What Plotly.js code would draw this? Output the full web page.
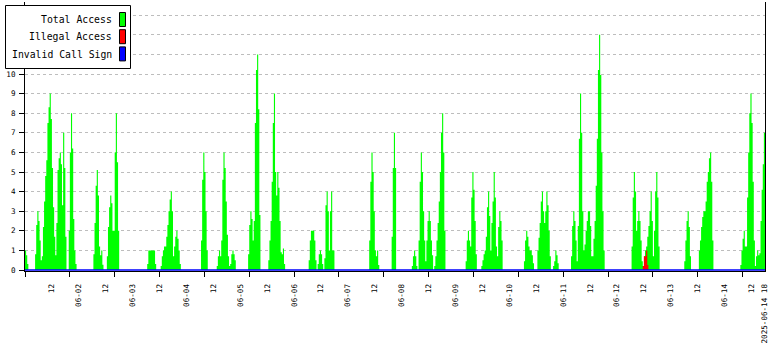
<!DOCTYPE html>
<html>
<head>
<meta charset="utf-8">
<script src="https://cdn.plot.ly/plotly-3.0.1.min.js"></script>
<style>
html,body{margin:0;padding:0;background:#fff;}
#chart{width:780px;height:350px;}
</style>
</head>
<body>
<div id="chart"></div>
<script>
// ---------------- DATA ----------------
const seriesNames  = ["Total Access", "Illegal Access", "Invalid Call Sign"];
const seriesColors = ["#00ff00", "#ff0000", "#0000ff"];
const startTime = "2025-06-01 00:00";
const endTime   = "2025-06-14 18:00";
const slotMinutes = 30;      // one sample every half hour
const slotCount = 660;       // half-hour slots from startTime to endTime

// [first half-hour slot number since 2025-06-01 00:00, values read for consecutive slots]
const totalBursts = [
  [0,   [1.0, 0.75, 0.3]],
  [9,   [0.8, 2.3, 3.0, 2.5, 1.5, 0.5, 0.7, 2.2, 3.5, 4.8, 5.6, 7.5, 8.3, 9.0, 7.7, 5.2, 3.2, 1.7, 0.75, 2.4, 5.1, 5.7, 6.0, 5.4, 3.3, 7.0, 5.2, 1.7]],
  [39,  [2.0, 6.0, 8.0, 6.2, 2.6, 1.0, 0.3]],
  [61,  [0.8, 2.4, 4.3, 5.1, 3.8, 1.2, 0.75, 1.0, 0.27]],
  [73,  [0.7, 2.2, 3.2, 3.8, 3.4, 2.0, 2.0, 6.0, 8.0, 5.5, 2.0]],
  [109, [0.3, 1.0, 1.0, 1.0, 1.0, 1.0, 1.0, 0.3]],
  [121, [0.2, 0.7, 1.0, 1.2, 1.2, 1.7, 2.3, 3.0, 3.6, 4.0, 3.0, 0.7, 1.2, 1.7, 2.0, 1.6, 1.0, 0.3]],
  [157, [1.5, 4.6, 6.0, 5.0, 3.0, 1.0]],
  [171, [0.2, 0.7, 1.0, 0.7, 1.5, 4.6, 6.0, 5.2, 3.5, 1.8, 0.7, 0.2, 0.3, 0.8, 1.0, 0.8, 0.5]],
  [199, [0.8, 2.3, 3.0, 2.6, 1.5, 2.5, 7.5, 10.2, 11.0, 8.2, 2.8]],
  [217, [0.5, 1.5, 2.5, 4.5, 7.5, 9.0, 5.0, 3.8, 5.0, 4.2, 2.5, 0.9, 0.8, 1.1, 0.3]],
  [253, [0.5, 1.5, 2.0, 2.0, 2.0, 1.5, 0.5]],
  [261, [0.3, 0.8, 1.0, 0.8, 0.3]],
  [267, [0.6, 3.3, 4.0, 3.0, 1.0, 3.0, 4.0, 1.0, 1.0]],
  [307, [1.5, 4.5, 6.0, 5.0, 3.0, 1.0, 0.7, 1.0, 0.25]],
  [327, [1.7, 5.2, 7.0, 5.2]],
  [345, [0.2, 0.7, 1.0, 0.7, 0.2]],
  [351, [1.5, 4.5, 6.0, 5.0, 3.0, 1.5, 0.45, 1.5, 2.5, 3.0, 2.5, 1.5, 0.75]],
  [365, [0.2, 0.7, 1.5, 2.4, 3.5, 5.0, 7.0, 8.0, 6.0, 2.0]],
  [393, [0.45, 1.5, 2.0, 1.5, 1.2, 3.7, 5.0, 4.1, 2.5, 0.8]],
  [407, [0.2, 0.5, 0.8, 1.0, 1.7, 3.2, 4.0, 2.75, 1.0, 2.4, 3.5, 5.0, 3.7, 1.2, 0.7, 2.2, 3.0, 2.5, 1.5]],
  [445, [0.45, 1.5, 2.0, 1.7, 1.2, 1.0, 1.0, 0.75, 0.35]],
  [457, [1.0, 1.65, 2.4, 3.5, 4.0, 3.0, 2.4, 3.0, 4.0, 3.3, 2.0, 0.7]],
  [471, [0.2, 0.45, 1.0, 0.75, 0.35]],
  [487, [0.7, 2.25, 3.0, 2.5, 1.5, 0.45, 2.25, 6.7, 9.0, 7.0, 3.0, 1.0, 1.3, 2.0, 2.5, 3.0, 3.0, 2.25, 0.7, 0.7, 1.6, 2.5, 4.3, 6.7, 10.2, 12.0, 9.95, 6.0, 3.0, 1.0]],
  [541, [1.2, 3.7, 5.0, 4.0, 2.0, 2.5, 3.0, 2.5, 1.5, 0.45, 0.2, 0.7, 1.0, 1.2, 1.7, 2.25, 3.0, 4.0, 2.5, 0.7, 2.0, 4.0, 5.0, 3.7, 1.2]],
  [588, [0.45, 1.5, 2.5, 3.0, 2.2, 0.7]],
  [601, [1.0, 1.5, 2.2, 2.7, 3.0, 3.0, 3.5, 4.5, 5.0, 5.7, 6.0, 4.5, 1.5]],
  [638, [0.25, 1.0, 1.6, 2.0, 1.2, 1.2, 3.7, 6.0, 8.0, 9.0, 7.5, 4.5, 1.5, 0.2, 0.7, 1.0, 0.75, 0.85, 2.5, 4.1, 5.4, 7.0]]
];
const illegalBursts = [
  [551, [0.2, 0.7, 0.7, 1.0, 0.25]]
];
const invalidBursts = [];   // no invalid call signs in the period (flat at 0)

const yTickValues = [0, 1, 2, 3, 4, 5, 6, 7, 8, 9, 10, 11, 12, 13];
const yTickLabels = ["0", "1", "2", "3", "4", "5", "6", "7", "8", "9", "10", "", "", ""];

const xTickTimes = [
  "2025-06-01 12:00","2025-06-02 00:00","2025-06-02 12:00","2025-06-03 00:00","2025-06-03 12:00",
  "2025-06-04 00:00","2025-06-04 12:00","2025-06-05 00:00","2025-06-05 12:00","2025-06-06 00:00",
  "2025-06-06 12:00","2025-06-07 00:00","2025-06-07 12:00","2025-06-08 00:00","2025-06-08 12:00",
  "2025-06-09 00:00","2025-06-09 12:00","2025-06-10 00:00","2025-06-10 12:00","2025-06-11 00:00",
  "2025-06-11 12:00","2025-06-12 00:00","2025-06-12 12:00","2025-06-13 00:00","2025-06-13 12:00",
  "2025-06-14 00:00","2025-06-14 12:00","2025-06-14 18:00"
];
const xTickLabels = [
  "12","06-02","12","06-03","12","06-04","12","06-05","12","06-06","12","06-07","12","06-08",
  "12","06-09","12","06-10","12","06-11","12","06-12","12","06-13","12","06-14","12","2025-06-14 18"
];
const majorTickHours = 20;   // unlabelled tick marks every 20 hours

// ---------------- BUILD ----------------
function slotTime(i) {
  const t0 = Date.UTC(2025, 5, 1, 0, 0);
  return new Date(t0 + i * slotMinutes * 60000).toISOString().slice(0, 16).replace("T", " ");
}
function expand(bursts) {
  const v = new Array(slotCount + 1).fill(0);
  bursts.forEach(([s, vals]) => vals.forEach((val, k) => { v[s + k] = val; }));
  v[slotCount] = v[slotCount - 1];
  return v;
}
const times = [];
for (let i = 0; i <= slotCount; i++) times.push(slotTime(i));
const totalValues = expand(totalBursts);
const illegalValues = expand(illegalBursts);
const invalidValues = expand(invalidBursts);

const MONO = "DejaVu Sans Mono, Liberation Mono, monospace";
const W = 780, H = 350, L = 25, R = 15, T = 2, B = 79;
const pw = W - L - R, ph = H - T - B;
const pxX = px => (px - L) / pw;
const pxY = py => (H - B - py) / ph;
const unitPx = 19.6;
const yMin = -1 / unitPx, yMax = (H - B - 1 - T) / unitPx;

function areaTrace(name, y, color) {
  return {
    type: "scatter", mode: "lines", x: times, y: y, name: name,
    line: { shape: "hv", width: 0, color: color },
    fill: "tozeroy", fillcolor: color,
    showlegend: false, hoverinfo: "skip"
  };
}
const data = [
  areaTrace(seriesNames[0], totalValues, seriesColors[0]),
  areaTrace(seriesNames[1], illegalValues, seriesColors[1]),
  {
    type: "scatter", mode: "lines", x: times, y: invalidValues, name: seriesNames[2],
    xaxis: "x2", line: { color: seriesColors[2], width: 1.6 },
    showlegend: false, hoverinfo: "skip"
  }
];

// custom legend (text left, swatch right, like the original)
const shapes = [{
  type: "rect", xref: "paper", yref: "paper", layer: "above",
  x0: pxX(5.5), x1: pxX(130.5), y0: pxY(68.5), y1: pxY(5.5),
  fillcolor: "#ffffff", line: { color: "#000", width: 1 }
}];
const annotations = [];
seriesNames.forEach((n, i) => {
  shapes.push({
    type: "rect", xref: "paper", yref: "paper", layer: "above",
    x0: pxX(119.5), x1: pxX(125.5), y0: pxY(26.5 + 17.2 * i), y1: pxY(12.5 + 17.2 * i),
    fillcolor: seriesColors[i], line: { color: "#000", width: 1 }
  });
  annotations.push({
    xref: "paper", yref: "paper", x: pxX(114), y: pxY(19.8 + 17.2 * i),
    xanchor: "right", yanchor: "middle", showarrow: false, text: n,
    font: { family: MONO, size: 9.8, color: "#000" }
  });
});

const layout = {
  width: W, height: H,
  margin: { l: L, r: R, t: T, b: B, pad: 0 },
  paper_bgcolor: "#fff", plot_bgcolor: "#fff",
  showlegend: false,
  xaxis: {
    type: "date", range: [startTime, endTime],
    tickmode: "array", tickvals: xTickTimes, ticktext: xTickLabels,
    tickangle: -90, ticks: "", showgrid: false, zeroline: false,
    showline: true, linecolor: "#000", linewidth: 1,
    tickfont: { family: MONO, size: 7.6, color: "#000" },
    ticklabelstandoff: 9, fixedrange: true
  },
  xaxis2: {
    type: "date", overlaying: "x", anchor: "y", side: "bottom",
    range: [startTime, endTime],
    tickmode: "linear", tick0: startTime, dtick: majorTickHours * 3600 * 1000,
    ticks: "outside", ticklen: 5, tickwidth: 1, tickcolor: "#000",
    showticklabels: false, showgrid: false, zeroline: false, showline: false, fixedrange: true
  },
  yaxis: {
    range: [yMin, yMax],
    tickmode: "array", tickvals: yTickValues, ticktext: yTickLabels,
    ticks: "outside", ticklen: 5, tickwidth: 1, tickcolor: "#000",
    showgrid: true, gridcolor: "#bdbdbd", gridwidth: 1, griddash: "3px,3px",
    zeroline: false, showline: true, linecolor: "#000", linewidth: 1, mirror: true,
    tickfont: { family: MONO, size: 7.6, color: "#000" },
    ticklabelstandoff: 2, fixedrange: true
  },
  shapes: shapes,
  annotations: annotations
};

Plotly.newPlot("chart", data, layout, { staticPlot: true, displayModeBar: false });
</script>
</body>
</html>
